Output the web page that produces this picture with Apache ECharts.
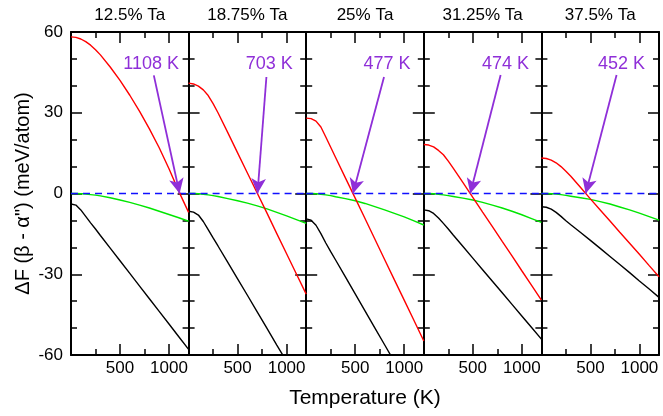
<!DOCTYPE html>
<html>
<head>
<meta charset="utf-8">
<script src="https://cdn.jsdelivr.net/npm/echarts@6/dist/echarts.min.js"></script>
<style>html,body{margin:0;padding:0;background:#fff}#chart{width:663px;height:416px}</style>
</head>
<body>
<div id="chart"></div>
<script>
// temperature grid (K) shared by every curve
var temps = [0, 50, 100, 150, 200, 250, 300, 400, 500, 600, 700, 800, 900, 1000, 1100, 1200];
var panelTitles = ['12.5% Ta', '18.75% Ta', '25% Ta', '31.25% Ta', '37.5% Ta'];

// dF (meV/atom), one row per panel
var redCurves = [
    [58.2, 58.0, 57.4, 56.4, 55.1, 53.4, 51.5, 47.0, 42.0, 36.5, 30.5, 24.0, 17.0, 9.2, 0.8, -7.0],
    [41.0, 40.7, 39.9, 38.5, 36.4, 33.4, 30.0, 22.6, 15.1, 7.6, 0.2, -7.3, -14.9, -22.4, -29.9, -37.4],
    [28.0, 27.8, 26.9, 24.7, 21.0, 17.2, 13.4, 5.8, -1.7, -9.3, -16.9, -24.5, -32.1, -39.6, -47.2, -54.8],
    [18.2, 18.0, 17.3, 16.0, 14.4, 12.0, 9.4, 4.0, -1.4, -6.9, -12.3, -17.8, -23.2, -28.7, -34.1, -39.6],
    [13.2, 13.0, 12.4, 11.4, 10.0, 8.3, 6.4, 2.2, -2.0, -6.1, -10.2, -14.4, -18.5, -22.6, -26.8, -30.9]
];
var greenCurves = [
    [0, 0, -0.1, -0.2, -0.4, -0.6, -0.9, -1.6, -2.4, -3.3, -4.3, -5.4, -6.6, -7.8, -9.0, -10.3],
    [0, 0, -0.1, -0.3, -0.5, -0.8, -1.1, -1.9, -2.7, -3.6, -4.6, -5.7, -7.0, -8.3, -9.7, -11.1],
    [0, 0, -0.1, -0.3, -0.5, -0.8, -1.2, -1.9, -2.7, -3.7, -4.9, -6.1, -7.4, -8.7, -10.2, -11.7],
    [0, 0, -0.1, -0.3, -0.5, -0.8, -1.1, -1.7, -2.4, -3.3, -4.3, -5.4, -6.6, -7.9, -9.3, -10.7],
    [0, 0, -0.1, -0.2, -0.4, -0.7, -1.0, -1.6, -2.2, -3.0, -3.9, -5.0, -6.1, -7.3, -8.6, -9.9]
];
var blackCurves = [
    [-3.9, -4.3, -6.1, -8.5, -10.9, -13.2, -15.6, -20.3, -25.0, -29.7, -34.4, -39.1, -43.8, -48.5, -53.2, -57.9],
    [-6.6, -6.9, -8.0, -10.4, -13.4, -16.5, -19.5, -25.6, -31.7, -37.8, -44.0, -50.1, -56.3, -62.4, -68.5, -74.6],
    [-9.4, -9.9, -11.8, -14.9, -18.4, -21.6, -24.7, -31.0, -37.3, -43.6, -49.9, -56.2, -62.5, -68.8, -75.1, -81.4],
    [-6.1, -6.4, -7.4, -9.1, -11.1, -13.2, -15.4, -19.7, -24.0, -28.3, -32.6, -36.9, -41.2, -45.5, -49.8, -54.1],
    [-4.9, -5.1, -5.8, -7.0, -8.5, -10.1, -11.6, -14.5, -17.4, -20.4, -23.4, -26.4, -29.4, -32.5, -35.5, -38.6]
];
var zeroLine = [0, 0];
var zeroTemps = [0, 1200];

// transition temperatures and their annotations
var crossT = [1108, 703, 477, 474, 452];
var crossLabels = ['1108 K', '703 K', '477 K', '474 K', '452 K'];
var arrowTailT = [845, 794, 794, 784, 767];
var arrowTailV = [43.9, 43.3, 43.3, 44, 44];
var labelT = [817, 824, 824, 833, 817];
var labelV = [48.2, 48.2, 48.2, 48.2, 48.2];

var FONT = '"Liberation Sans", Arial, Helvetica, sans-serif';
var PURPLE = '#8f2fd8';
var black = {color: '#000', width: 1.5};
var axisLn = {show: true, onZero: false, lineStyle: {color: '#000', width: 2}};

function pairs(xs, ys) {
    var out = [];
    for (var k = 0; k < xs.length; k++) out.push([xs[k], ys[k]]);
    return out;
}

var grids = [], xAxes = [], yAxes = [], series = [];
for (var i = 0; i < 5; i++) {
    var left = 71 + i * 117.6;
    var g = {left: left, top: 32, width: 117.6, height: 323, outerBoundsMode: 'none'};
    grids.push(g, Object.assign({}, g)); // main 2i, overlay 2i+1 (long ticks)

    var xBase = {type: 'value', min: 0, max: 1200, splitLine: {show: false}};
    // main bottom: every 250 K short ticks + labels
    xAxes.push(Object.assign({}, xBase, {
        gridIndex: 2 * i, position: 'bottom', interval: 250, axisLine: axisLn,
        axisTick: {inside: true, length: 6, lineStyle: black},
        axisLabel: {color: '#000', fontSize: 17, margin: 5, fontFamily: FONT,
            formatter: function(v) { return (v === 500 || v === 1000) ? String(v) : ''; }},
        name: i === 2 ? 'Temperature (K)' : '', nameLocation: 'middle', nameGap: 33,
        nameTextStyle: {color: '#000', fontSize: 21, fontFamily: FONT}
    }));
    // main top: short ticks + panel title
    xAxes.push(Object.assign({}, xBase, {
        gridIndex: 2 * i, position: 'top', interval: 250, axisLine: axisLn,
        axisTick: {inside: true, length: 6, lineStyle: black}, axisLabel: {show: false},
        name: panelTitles[i], nameLocation: 'middle', nameGap: 8,
        nameTextStyle: {color: '#000', fontSize: 17, fontFamily: FONT}
    }));
    // overlay bottom/top: long ticks at 500 K steps
    xAxes.push(Object.assign({}, xBase, {
        gridIndex: 2 * i + 1, position: 'bottom', interval: 500, axisLine: {show: false, onZero: false},
        axisTick: {inside: true, length: 11, lineStyle: black}, axisLabel: {show: false}
    }));
    xAxes.push(Object.assign({}, xBase, {
        gridIndex: 2 * i + 1, position: 'top', interval: 500, axisLine: {show: false, onZero: false},
        axisTick: {inside: true, length: 11, lineStyle: black}, axisLabel: {show: false}
    }));

    var yBase = {type: 'value', min: -60, max: 60, interval: 30, gridIndex: 2 * i,
        axisLine: axisLn, splitLine: {show: false},
        axisTick: {inside: true, length: 11, lineStyle: black},
        minorTick: {show: true, splitNumber: 3, length: 6, lineStyle: black}};
    yAxes.push(Object.assign({}, yBase, {
        position: 'left',
        axisLabel: {show: i === 0, color: '#000', fontSize: 17, margin: 8, fontFamily: FONT},
        name: i === 0 ? 'ΔF (β - α") (meV/atom)' : '', nameLocation: 'middle', nameGap: 38,
        nameRotate: 90, nameTextStyle: {color: '#000', fontSize: 20, fontFamily: FONT}
    }));
    yAxes.push(Object.assign({}, yBase, {position: 'right', axisLabel: {show: false}}));
    yAxes.push({type: 'value', gridIndex: 2 * i + 1, min: -60, max: 60, show: false});

    var ax = {xAxisIndex: 4 * i, yAxisIndex: 3 * i, type: 'line', showSymbol: false,
        smooth: false, silent: true, clip: true};
    series.push(Object.assign({}, ax, {data: pairs(temps, greenCurves[i]),
        lineStyle: {color: '#00e600', width: 1.4}, z: 2}));
    series.push(Object.assign({}, ax, {data: pairs(temps, blackCurves[i]),
        lineStyle: {color: '#000', width: 1.4}, z: 2}));
    series.push(Object.assign({}, ax, {data: pairs(zeroTemps, zeroLine),
        lineStyle: {color: '#1010ff', width: 1.6, type: [7, 5]}, z: 3}));
    series.push(Object.assign({}, ax, {data: pairs(temps, redCurves[i]),
        lineStyle: {color: '#ff0000', width: 1.4}, z: 4,
        markLine: {
            silent: true, animation: false, symbol: ['none', 'arrow'], symbolSize: [11, 15],
            lineStyle: {color: PURPLE, width: 1.8, type: 'solid'}, label: {show: false},
            data: [[{coord: [arrowTailT[i], arrowTailV[i]]}, {coord: [crossT[i], 0]}]]
        },
        markPoint: {
            silent: true, animation: false, symbol: 'rect', symbolSize: 1,
            itemStyle: {color: 'rgba(0,0,0,0)'},
            label: {show: true, position: 'inside', color: PURPLE, fontSize: 18, fontFamily: FONT},
            data: [{coord: [labelT[i], labelV[i]], label: {formatter: crossLabels[i]}}]
        }
    }));
}

var chart = echarts.init(document.getElementById('chart'));
chart.setOption({
    animation: false,
    textStyle: {fontFamily: FONT},
    grid: grids,
    xAxis: xAxes,
    yAxis: yAxes,
    series: series
});
</script>
</body>
</html>
